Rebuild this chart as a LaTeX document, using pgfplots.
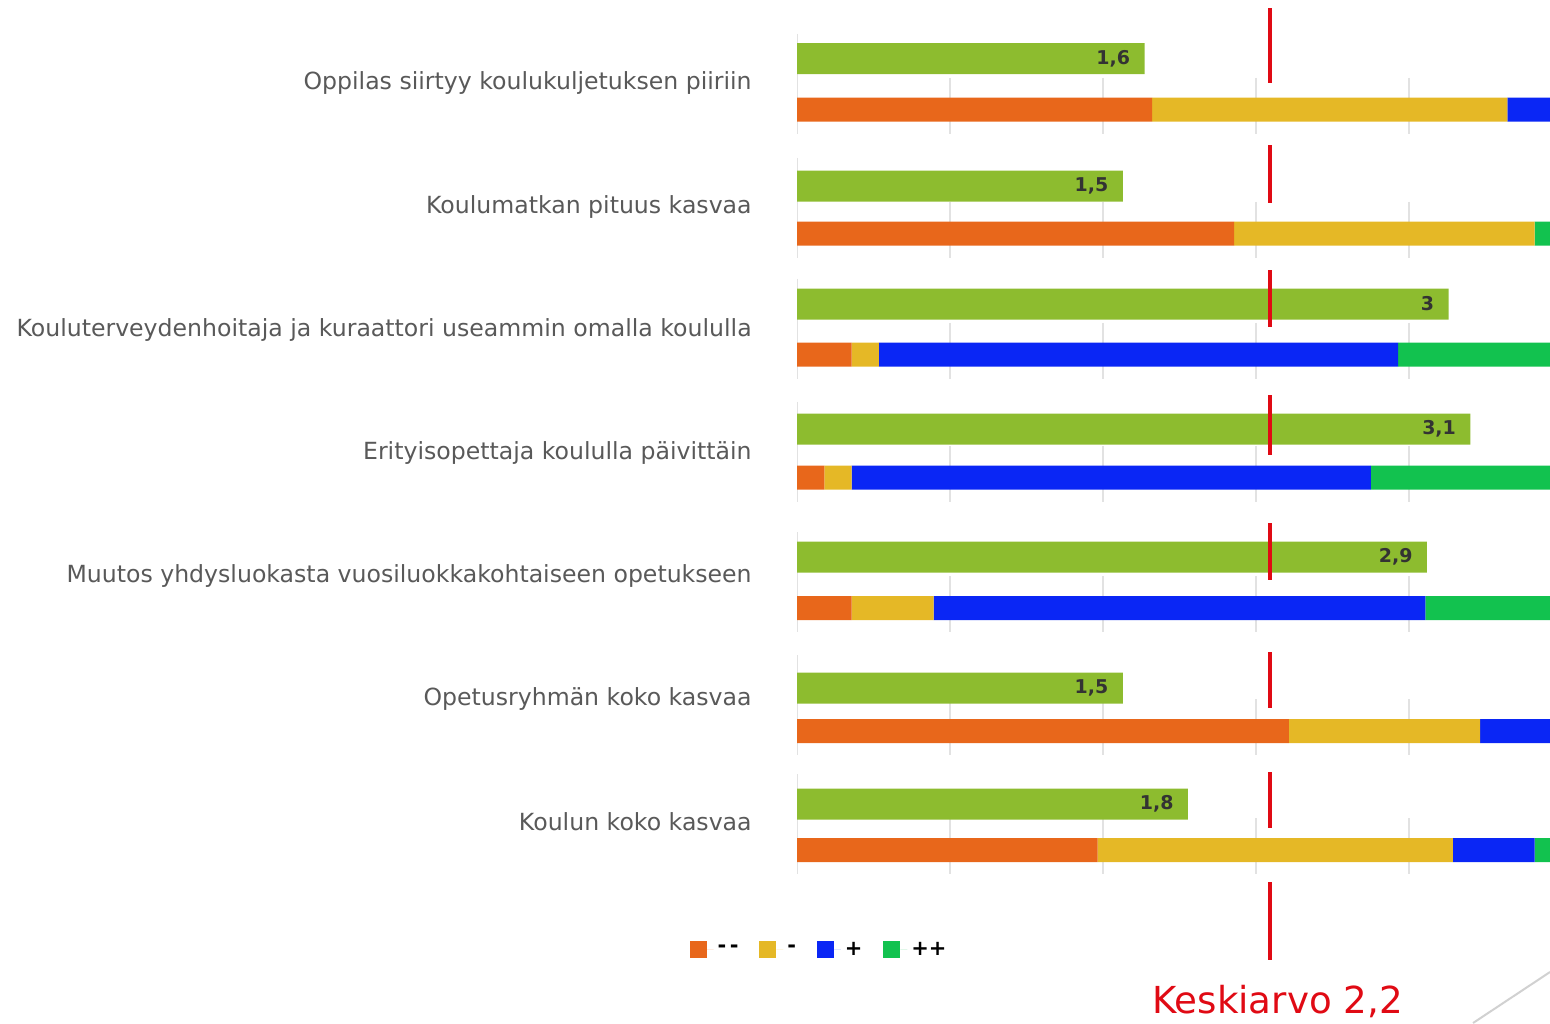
\documentclass[border=0pt]{standalone}
\usepackage{pgfplots}
\pgfplotsset{compat=1.18}
\usepackage{fontspec}
\setmainfont{DejaVu Sans}
\definecolor{cOrange}{HTML}{E8671B}
\definecolor{cYellow}{HTML}{E5B826}
\definecolor{cBlue}{HTML}{0A26F5}
\definecolor{cGreen}{HTML}{12C24F}
\definecolor{cMean}{HTML}{8DBC2F}
\definecolor{cLabel}{HTML}{595959}
\definecolor{cRed}{HTML}{E00A14}
\definecolor{cGrid}{HTML}{E2E2E2}
\begin{document}
\begin{tikzpicture}
\useasboundingbox (0pt,0pt) rectangle (775pt,-511.5pt);
% ---- grid segments (drawn first, below the bars) ----
\begin{axis}[
  at={(398.5pt,0pt)}, anchor=north west,
  width=376.5pt, height=511.5pt, scale only axis,
  xmin=0, xmax=98.43, ymin=0, ymax=1023, y dir=reverse,
  hide axis,
]
\pgfplotsinvokeforeach{109.5,233.5,354.5,477.5,608,731,850}{
  \draw[cGrid, line width=0.8pt] (axis cs:0,#1-76) -- (axis cs:0,#1+24);
  \draw[cGrid, line width=0.8pt] (axis cs:20,#1-32) -- (axis cs:20,#1+24);
  \draw[cGrid, line width=0.8pt] (axis cs:40,#1-32) -- (axis cs:40,#1+24);
  \draw[cGrid, line width=0.8pt] (axis cs:60,#1-32) -- (axis cs:60,#1+24);
  \draw[cGrid, line width=0.8pt] (axis cs:80,#1-32) -- (axis cs:80,#1+24);
}
\end{axis}
% ---- distribution axis (percent of answers) ----
\begin{axis}[
  at={(398.5pt,0pt)}, anchor=north west,
  width=376.5pt, height=511.5pt, scale only axis,
  xmin=0, xmax=98.43, ymin=0, ymax=1023, y dir=reverse,
  axis line style={draw=none},
  xtick=\empty,
  ytick={83,207,330,453,576,699,822},
  yticklabels={Oppilas siirtyy koulukuljetuksen piiriin, Koulumatkan pituus kasvaa, Kouluterveydenhoitaja ja kuraattori useammin omalla koululla, Erityisopettaja koululla päivittäin, Muutos yhdysluokasta vuosiluokkakohtaiseen opetukseen, Opetusryhmän koko kasvaa, Koulun koko kasvaa},
  major tick length=0pt,
  yticklabel style={font=\fontsize{11.8pt}{14pt}\selectfont, text=cLabel, anchor=east, inner sep=0pt, xshift=-22.5pt},
  xbar stacked, bar width=24,
  legend columns=4,
  legend style={at={(0.0306,0.0714)}, anchor=center, draw=none, fill=none,
    font=\bfseries\fontsize{10.5pt}{12pt}\selectfont,
    /tikz/every even column/.append style={column sep=8.4pt}},
]
\addplot[fill=cOrange, draw=none, legend image code/.code={\fill[cOrange] (0pt,-4.25pt) rectangle (8.5pt,4.25pt); \path (8.5pt,0pt) -- (12pt,0pt);}]
  coordinates {(46.43,109.5) (57.14,233.5) (7.14,354.5) (3.57,477.5) (7.14,608) (64.29,731) (39.29,850)};
\addlegendentry{-\,-}
\addplot[fill=cYellow, draw=none, legend image code/.code={\fill[cYellow] (0pt,-4.25pt) rectangle (8.5pt,4.25pt); \path (8.5pt,0pt) -- (12pt,0pt);}]
  coordinates {(46.43,109.5) (39.29,233.5) (3.57,354.5) (3.57,477.5) (10.71,608) (25.00,731) (46.43,850)};
\addlegendentry{-}
\addplot[fill=cBlue, draw=none, legend image code/.code={\fill[cBlue] (0pt,-4.25pt) rectangle (8.5pt,4.25pt); \path (8.5pt,0pt) -- (12pt,0pt);}]
  coordinates {(7.14,109.5) (0,233.5) (67.86,354.5) (67.86,477.5) (64.29,608) (10.71,731) (10.71,850)};
\addlegendentry{+}
\addplot[fill=cGreen, draw=none, legend image code/.code={\fill[cGreen] (0pt,-4.25pt) rectangle (8.5pt,4.25pt); \path (8.5pt,0pt) -- (12pt,0pt);}]
  coordinates {(0,109.5) (3.57,233.5) (21.43,354.5) (25.00,477.5) (17.86,608) (0,731) (3.57,850)};
\addlegendentry{++}
\end{axis}
% ---- mean axis ----
\begin{axis}[
  at={(398.5pt,0pt)}, anchor=north west,
  width=376.5pt, height=511.5pt, scale only axis,
  xmin=0, xmax=3.467, ymin=0, ymax=1023, y dir=reverse,
  hide axis, clip=false,
  xbar, bar width=31,
]
\addplot[fill=cMean, draw=none,
  nodes near coords={\pgfmathprintnumber[use comma]{\pgfplotspointmeta}},
  point meta=x,
  nodes near coords style={anchor=east, xshift=-7pt, inner sep=0pt,
    font=\bfseries\fontsize{9.5pt}{11pt}\selectfont, text=black!80,
    /pgf/number format/assume math mode=true}]
  coordinates {(1.6,58.5) (1.5,186) (3,304) (3.1,429) (2.9,557) (1.5,688) (1.8,804)};
\draw[cRed, line width=2pt] (axis cs:2.18,8) -- (axis cs:2.18,83);
\draw[cRed, line width=2pt] (axis cs:2.18,145) -- (axis cs:2.18,203);
\draw[cRed, line width=2pt] (axis cs:2.18,270) -- (axis cs:2.18,327);
\draw[cRed, line width=2pt] (axis cs:2.18,395) -- (axis cs:2.18,455);
\draw[cRed, line width=2pt] (axis cs:2.18,523) -- (axis cs:2.18,580);
\draw[cRed, line width=2pt] (axis cs:2.18,652) -- (axis cs:2.18,708);
\draw[cRed, line width=2pt] (axis cs:2.18,772) -- (axis cs:2.18,828);
\draw[cRed, line width=2pt] (axis cs:2.18,882) -- (axis cs:2.18,960);
\end{axis}
\node[text=cRed, font=\fontsize{18.6pt}{21pt}\selectfont, anchor=base, inner sep=0pt] at (638.75pt,-506.5pt) {Keskiarvo 2,2};
\draw[black!18, line width=1pt] (736.5pt,-511.5pt) -- (775pt,-486pt);
\end{tikzpicture}
\end{document}
